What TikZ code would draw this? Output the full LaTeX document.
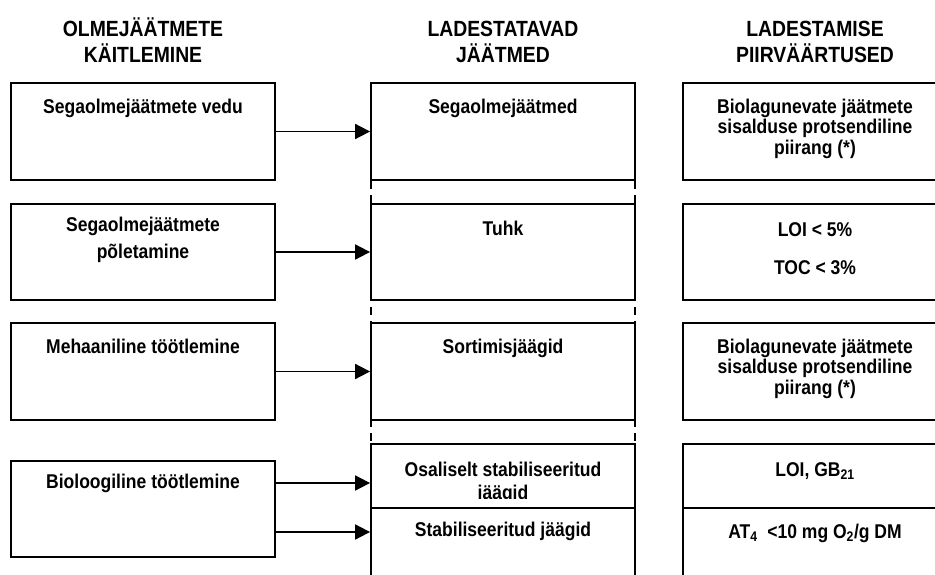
\documentclass[tikz,border=0pt]{standalone}
\usepackage{fontspec}
\setmainfont{Liberation Sans}[FakeStretch=0.88]
\usetikzlibrary{arrows.meta}

\begin{document}
\begin{tikzpicture}[x=1pt,y=-1pt,
    box/.style={draw, line width=1.8pt, minimum width=264pt, inner sep=0pt},
    txt/.style={font=\bfseries\fontsize{19.9}{20.5}\selectfont, align=center, inner sep=0pt, anchor=base},
    head/.style={font=\bfseries\fontsize{22}{26}\selectfont, align=center, inner sep=0pt, anchor=base},
    arr/.style={line width=1.8pt, -{Triangle[length=15pt,width=15pt]}}]

        \useasboundingbox (0,0) rectangle (935,575);
        \clip (0,0) rectangle (935,575);

        \node[head] (h1) at (143,63) {OLMEJÄÄTMETE\\KÄITLEMINE};
        \node[head] (h2) at (503,63) {LADESTATAVAD\\JÄÄTMED};
        \node[head] (h3) at (815,63) {LADESTAMISE\\PIIRVÄÄRTUSED};

        \draw[line width=1.8pt, dash pattern=on 8pt off 6pt] (371,83) rectangle (635,620);

        \begin{scope}[every node/.style={box, fill=white}]
          \node[minimum height=97pt] (l1) at (143,131.5) {};
          \node[minimum height=96pt] (l2) at (143,252)   {};
          \node[minimum height=97pt] (l3) at (143,371.5) {};
          \node[minimum height=96pt] (l4) at (143,509)   {};

          \node[minimum height=97pt]  (m1)  at (503,131.5) {};
          \node[minimum height=96pt]  (m2)  at (503,252)   {};
          \node[minimum height=97pt]  (m3)  at (503,371.5) {};
          \node[minimum height=64pt]  (m4a) at (503,476)   {};

          \node[minimum height=97pt]  (r1)  at (815,131.5) {};
          \node[minimum height=96pt]  (r2)  at (815,252)   {};
          \node[minimum height=97pt]  (r3)  at (815,371.5) {};
          \node[minimum height=64pt]  (r4a) at (815,476)   {};
        \end{scope}

        \begin{scope}[every node/.style={txt}]
          \node (l1t) at ([yshift=-31pt]l1.north) {Segaolmejäätmete vedu};
          \node (l2t) at ([yshift=-55pt]l2.north) {Segaolmejäätmete\\[6pt]põletamine};
          \node (l3t) at ([yshift=-31pt]l3.north) {Mehaaniline töötlemine};
          \node (l4t) at ([yshift=-28pt]l4.north) {Bioloogiline töötlemine};

          \node (m1t) at ([yshift=-31pt]m1.north) {Segaolmejäätmed};
          \node (m2t) at ([yshift=-32pt]m2.north) {Tuhk};
          \node (m3t) at ([yshift=-31pt]m3.north) {Sortimisjäägid};

          \node (r1t) at ([yshift=-72pt]r1.north) {Biolagunevate jäätmete\\sisalduse protsendiline\\piirang (*)};
          \node (r2t) at ([yshift=-71pt]r2.north) {LOI < 5\%\\[17.5pt]TOC < 3\%};
          \node (r3t) at ([yshift=-72pt]r3.north) {Biolagunevate jäätmete\\sisalduse protsendiline\\piirang (*)};
          \node (r4at) at ([yshift=-33pt]r4a.north) {LOI, GB\textsubscript{21}};
        \end{scope}

        \begin{scope}
          \clip (371,444) rectangle (635,498);
          \node[txt] (m4at) at ([yshift=-56pt]m4a.north) {Osaliselt stabiliseeritud\\[2.5pt]jäägid};
        \end{scope}

        \begin{scope}[every node/.style={box, fill=white}]
          \node[minimum height=112pt] (m4b) at (503,564) {};
          \node[minimum height=112pt] (r4b) at (815,564) {};
        \end{scope}

        \node[txt] (m4bt) at ([yshift=-29pt]m4b.north) {Stabiliseeritud jäägid};
        \node[txt] (r4bt) at ([yshift=-31pt]r4b.north) {AT\textsubscript{4}\ \ <10 mg O\textsubscript{2}/g DM};

        \draw[arr] (l1.east) -- (m1.west);
        \draw[arr] (l2.east) -- (m2.west);
        \draw[arr] (l3.east) -- (m3.west);
        \draw[arr] ([yshift=26pt]l4.east) -- ([yshift=26pt]l4.east -| m4a.west);
        \draw[arr] ([yshift=-23pt]l4.east) -- ([yshift=-23pt]l4.east -| m4b.west);

      \end{tikzpicture}
\end{document}
